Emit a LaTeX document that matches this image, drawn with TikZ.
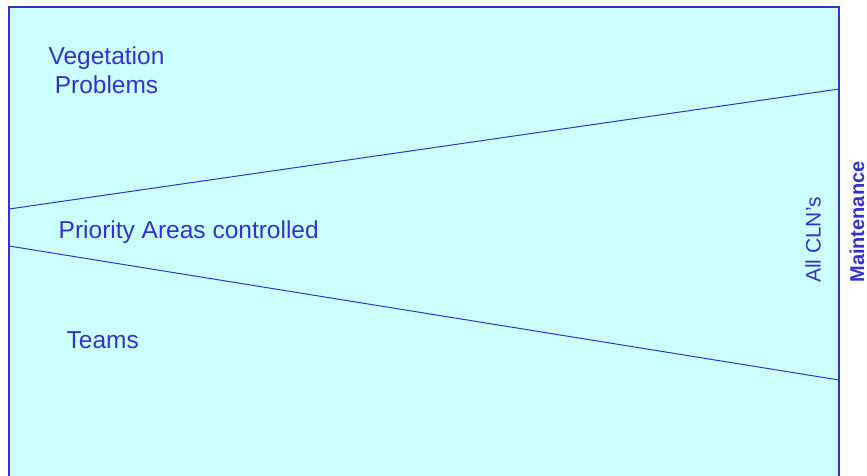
\documentclass[tikz,border=0pt]{standalone}
\usepackage{fontspec}
\setmainfont{Liberation Sans}
\definecolor{txtblue}{HTML}{3333CC}
\definecolor{bgcyan}{HTML}{CCFFFF}
\begin{document}
\begin{tikzpicture}[x=1pt,y=-1pt,
  lbl/.style={text=txtblue,inner sep=0pt,font=\fontsize{24.5}{29}\selectfont},
  border/.style={draw=txtblue,line width=1.5pt},
  divider/.style={draw=txtblue,line width=1pt}]
\useasboundingbox (0,0) rectangle (867,475);
\fill[bgcyan] (9,7) rectangle (839,476);
\draw[border] (9,476) -- (9,7) -- (839,7) -- (839,476);
\coordinate (ul) at (9,209);
\coordinate (ur) at (839,89);
\coordinate (ll) at (9,246);
\coordinate (lr) at (839,380);
\draw[divider] (ul) -- (ur);
\draw[divider] (ll) -- (lr);
\node[lbl,anchor=base] (veg1) at (106.5,64) {Vegetation};
\node[lbl,anchor=base] (veg2) at (106.5,93) {Problems};
\node[lbl,anchor=base west] (prio) at (58.5,238) {Priority Areas controlled};
\node[lbl,anchor=base west] (teams) at (66.5,348) {Teams};
\node[lbl,font=\fontsize{21}{25}\selectfont,rotate=90] (cln) at (813,240) {All CLN's};
\node[lbl,font=\fontsize{20}{24}\selectfont\bfseries,rotate=90] (maint) at (857,222) {Maintenance};
\end{tikzpicture}
\end{document}
